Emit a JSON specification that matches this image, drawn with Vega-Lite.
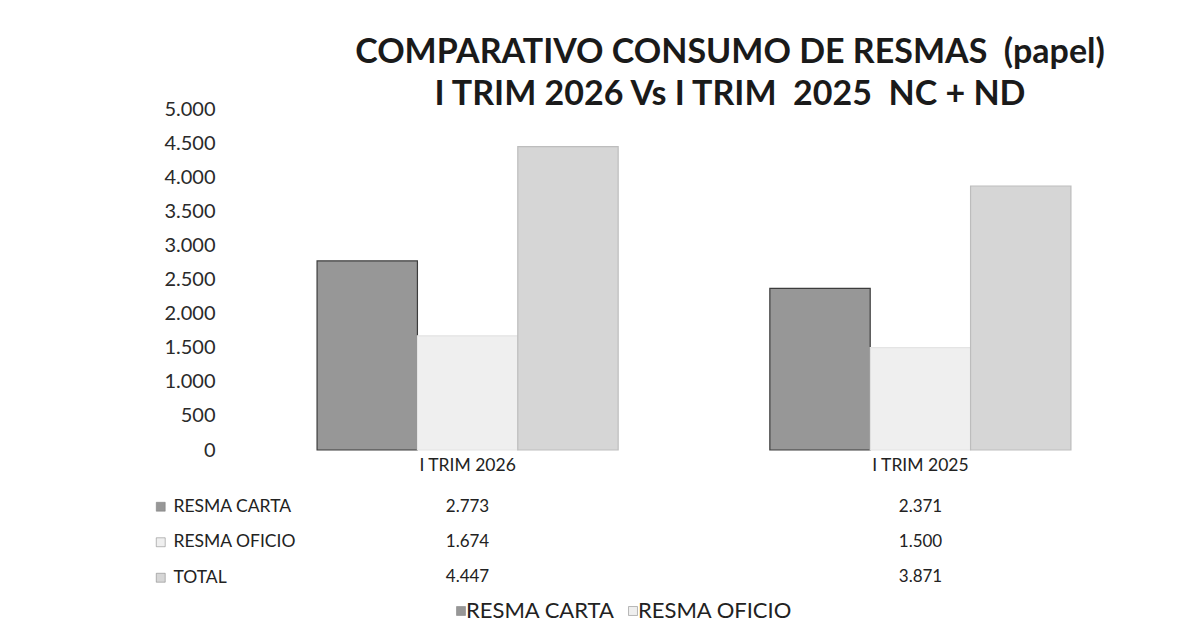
{
  "$schema": "https://vega.github.io/schema/vega-lite/v6.json",
  "background": "white",
  "padding": {"left": 144, "top": 36, "right": 25, "bottom": 5},
  "config": {
    "view": {"stroke": null},
    "locale": {"number": {"decimal": ",", "thousands": ".", "grouping": [3], "currency": ["$", ""]}},
    "font": "Lato"
  },
  "title": {
    "text": ["COMPARATIVO CONSUMO DE RESMAS \u00a0(papel)", "I TRIM 2026 Vs I TRIM \u00a02025 \u00a0NC + ND"],
    "font": "Lato",
    "fontSize": 34,
    "fontWeight": "bold",
    "color": "#1a1a1a",
    "lineHeight": 42,
    "anchor": "middle",
    "frame": "group",
    "offset": -13,
    "dx": 36
  },
  "data": {
    "values": [
      {"periodo": "I TRIM 2026", "tipo": "RESMA CARTA", "valor": 2773},
      {"periodo": "I TRIM 2026", "tipo": "RESMA OFICIO", "valor": 1674},
      {"periodo": "I TRIM 2026", "tipo": "TOTAL", "valor": 4447},
      {"periodo": "I TRIM 2025", "tipo": "RESMA CARTA", "valor": 2371},
      {"periodo": "I TRIM 2025", "tipo": "RESMA OFICIO", "valor": 1500},
      {"periodo": "I TRIM 2025", "tipo": "TOTAL", "valor": 3871}
    ]
  },
  "spacing": 16,
  "resolve": {"scale": {"color": "independent", "fill": "independent"}, "legend": {"color": "independent", "fill": "independent"}},
  "vconcat": [
    {
      "width": 906,
      "height": 341,
      "mark": {"type": "bar", "strokeWidth": 1.2},
      "encoding": {
        "x": {
          "field": "periodo", "type": "nominal", "sort": ["I TRIM 2026", "I TRIM 2025"],
          "scale": {"paddingInner": 0.335, "paddingOuter": 0.168},
          "axis": {"title": null, "labelAngle": 0, "domain": false, "ticks": false, "labelFont": "Lato", "labelFontSize": 17.5, "labelColor": "#222", "labelPadding": 6}
        },
        "xOffset": {
          "field": "tipo", "type": "nominal", "sort": ["RESMA CARTA", "RESMA OFICIO", "TOTAL"],
          "scale": {"paddingInner": 0, "paddingOuter": 0}
        },
        "y": {
          "field": "valor", "type": "quantitative",
          "scale": {"domain": [0, 5000], "nice": false},
          "axis": {"title": null, "values": [0, 500, 1000, 1500, 2000, 2500, 3000, 3500, 4000, 4500, 5000], "format": ",.0f", "grid": false, "domain": false, "ticks": false, "labelFont": "Lato", "labelFontSize": 20, "labelColor": "#2a2a2a", "labelPadding": 26}
        },
        "color": {
          "field": "tipo", "type": "nominal",
          "scale": {"domain": ["RESMA CARTA", "RESMA OFICIO", "TOTAL"], "range": ["#979797", "#efefef", "#d6d6d6"]},
          "legend": null
        },
        "stroke": {
          "field": "tipo", "type": "nominal",
          "scale": {"domain": ["RESMA CARTA", "RESMA OFICIO", "TOTAL"], "range": ["#3c3c3c", "#e4e4e4", "#bdbdbd"]},
          "legend": null
        }
      }
    },
    {
      "width": 906,
      "height": 104,
      "encoding": {
        "x": {
          "field": "periodo", "type": "nominal", "sort": ["I TRIM 2026", "I TRIM 2025"],
          "scale": {"paddingInner": 0.335, "paddingOuter": 0.168},
          "axis": null
        },
        "y": {
          "field": "tipo", "type": "nominal", "sort": ["RESMA CARTA", "RESMA OFICIO", "TOTAL"],
          "axis": null
        }
      },
      "layer": [
        {
          "mark": {"type": "text", "font": "Lato", "fontSize": 17, "color": "#222"},
          "encoding": {"text": {"field": "valor", "type": "quantitative", "format": ",.0f"}}
        },
        {
          "mark": {"type": "square", "opacity": 0},
          "encoding": {
            "color": {
              "field": "tipo", "type": "nominal",
              "scale": {"domain": ["RESMA CARTA", "RESMA OFICIO", "TOTAL"], "range": ["#979797", "#efefef", "#d6d6d6"]},
              "legend": {"orient": "left", "title": null, "symbolType": "square", "symbolSize": 80, "symbolOpacity": 1, "symbolStrokeColor": "#777", "symbolStrokeWidth": 0.5, "labelFont": "Lato", "labelFontSize": 17.5, "labelColor": "#222", "rowPadding": 16.5, "offset": -64, "padding": 8}
            }
          }
        },
        {
          "mark": {"type": "square", "opacity": 0},
          "encoding": {
            "fill": {
              "field": "tipo", "type": "nominal",
              "scale": {"domain": ["RESMA CARTA", "RESMA OFICIO", "TOTAL"], "range": ["#979797", "#efefef", "#d6d6d6"]},
              "legend": {"orient": "none", "legendX": 209, "legendY": 110, "direction": "horizontal", "title": null, "values": ["RESMA CARTA", "RESMA OFICIO"], "symbolType": "square", "symbolSize": 80, "symbolOpacity": 1, "symbolStrokeColor": "#777", "symbolStrokeWidth": 0.5, "labelFont": "Lato", "labelFontSize": 22, "labelColor": "#222", "labelOffset": -6, "columnPadding": 7}
            }
          }
        }
      ],
      "resolve": {"legend": {"color": "independent", "fill": "independent"}}
    }
  ]
}
